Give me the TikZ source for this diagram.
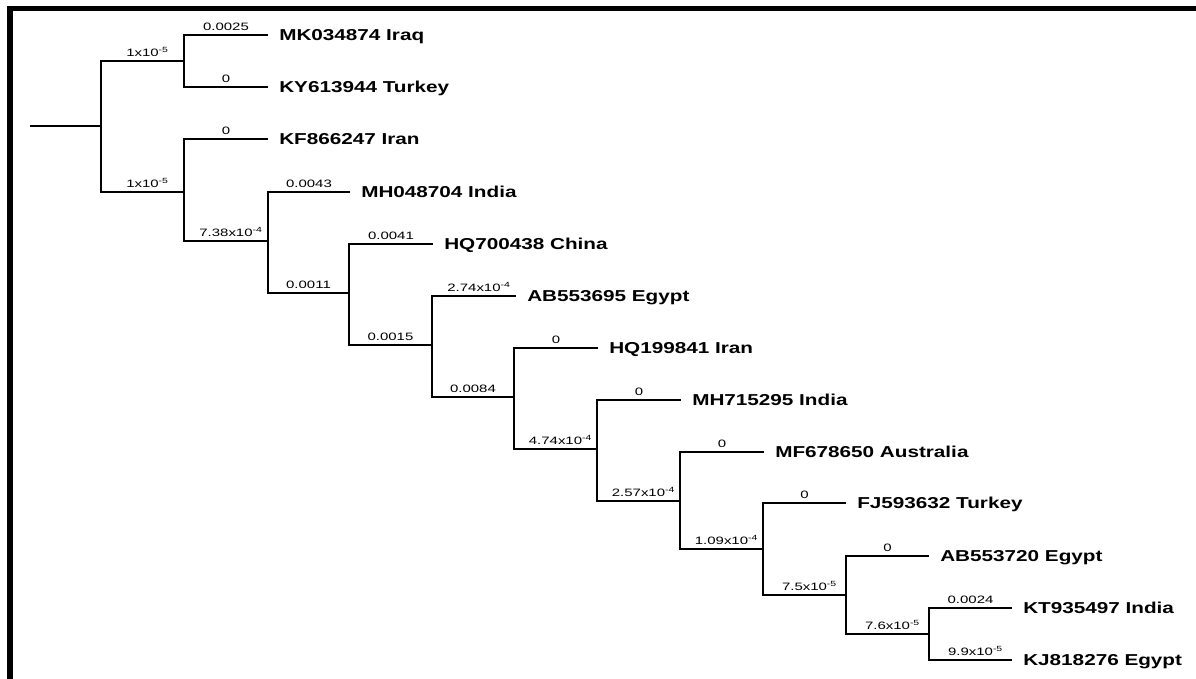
\documentclass[tikz,border=0pt]{standalone}
\usepackage{fontspec}
\setmainfont{Liberation Sans}
\newcommand{\expo}[1]{\rlap{\textsuperscript{#1}}}
\tikzset{
  br/.style={line width=2.1pt, line join=miter},
  leaf/.style={font=\fontsize{15.8}{18}\selectfont\bfseries, xscale=1.31, anchor=west, inner sep=0pt, text height=11.3pt, text depth=0pt},
  bl/.style={pos=0.75, font=\fontsize{10.7}{12}\selectfont, xscale=1.4, anchor=south, inner sep=0pt, text depth=0pt, yshift=3.3pt},
  frame/.style={line width=#1}
}
\begin{document}
\begin{tikzpicture}[x=1pt,y=-1pt]
\useasboundingbox (0,0) rectangle (1196,679);
% frame
\draw[frame=5.5pt] (10,679) -- (10,8.5) -- (1196,8.5);
% internal nodes
\coordinate (r) at (30,126);
\coordinate (A) at (101,126);
\coordinate (B) at (184,61);
\coordinate (C) at (184,192);
\coordinate (D) at (268,241);
\coordinate (E) at (349,293);
\coordinate (F) at (432,345);
\coordinate (G) at (514,397);
\coordinate (H) at (597,449);
\coordinate (I) at (680,501);
\coordinate (J) at (763,549);
\coordinate (K) at (846,595);
\coordinate (L) at (929,634);
% tips
\coordinate (t1) at (268,35);
\coordinate (t2) at (268,87);
\coordinate (t3) at (268,139);
\coordinate (t4) at (350,192);
\coordinate (t5) at (433,244);
\coordinate (t6) at (516,296);
\coordinate (t7) at (598,348);
\coordinate (t8) at (681,400);
\coordinate (t9) at (764,452);
\coordinate (t10) at (846,503);
\coordinate (t11) at (929,556);
\coordinate (t12) at (1012,608);
\coordinate (t13) at (1012,660);
% leaf labels
\node[leaf] (l1) at (279,35) {MK034874 Iraq};
\node[leaf] (l2) at (279,87) {KY613944 Turkey};
\node[leaf] (l3) at (279,139) {KF866247 Iran};
\node[leaf] (l4) at (361,192) {MH048704 India};
\node[leaf] (l5) at (444,244) {HQ700438 China};
\node[leaf] (l6) at (527,296) {AB553695 Egypt};
\node[leaf] (l7) at (609,348) {HQ199841 Iran};
\node[leaf] (l8) at (692,400) {MH715295 India};
\node[leaf] (l9) at (775,452) {MF678650 Australia};
\node[leaf] (l10) at (857,503) {FJ593632 Turkey};
\node[leaf] (l11) at (940,556) {AB553720 Egypt};
\node[leaf] (l12) at (1023,608) {KT935497 India};
\node[leaf] (l13) at (1023,660) {KJ818276 Egypt};
% branches
\draw[br] (r) -- (A);
\draw[br] (A) |- node[bl]{1x10\expo{-5}} (B);
\draw[br] (A) |- node[bl]{1x10\expo{-5}} (C);
\draw[br] (B) |- node[bl]{0.0025} (t1);
\draw[br] (B) |- node[bl]{0} (t2);
\draw[br] (C) |- node[bl]{0} (t3);
\draw[br] (C) |- node[bl]{7.38x10\expo{-4}} (D);
\draw[br] (D) |- node[bl]{0.0043} (t4);
\draw[br] (D) |- node[bl]{0.0011} (E);
\draw[br] (E) |- node[bl]{0.0041} (t5);
\draw[br] (E) |- node[bl]{0.0015} (F);
\draw[br] (F) |- node[bl]{2.74x10\expo{-4}} (t6);
\draw[br] (F) |- node[bl]{0.0084} (G);
\draw[br] (G) |- node[bl]{0} (t7);
\draw[br] (G) |- node[bl]{4.74x10\expo{-4}} (H);
\draw[br] (H) |- node[bl]{0} (t8);
\draw[br] (H) |- node[bl]{2.57x10\expo{-4}} (I);
\draw[br] (I) |- node[bl]{0} (t9);
\draw[br] (I) |- node[bl]{1.09x10\expo{-4}} (J);
\draw[br] (J) |- node[bl]{0} (t10);
\draw[br] (J) |- node[bl]{7.5x10\expo{-5}} (K);
\draw[br] (K) |- node[bl]{0} (t11);
\draw[br] (K) |- node[bl]{7.6x10\expo{-5}} (L);
\draw[br] (L) |- node[bl]{0.0024} (t12);
\draw[br] (L) |- node[bl]{9.9x10\expo{-5}} (t13);
\end{tikzpicture}
\end{document}
